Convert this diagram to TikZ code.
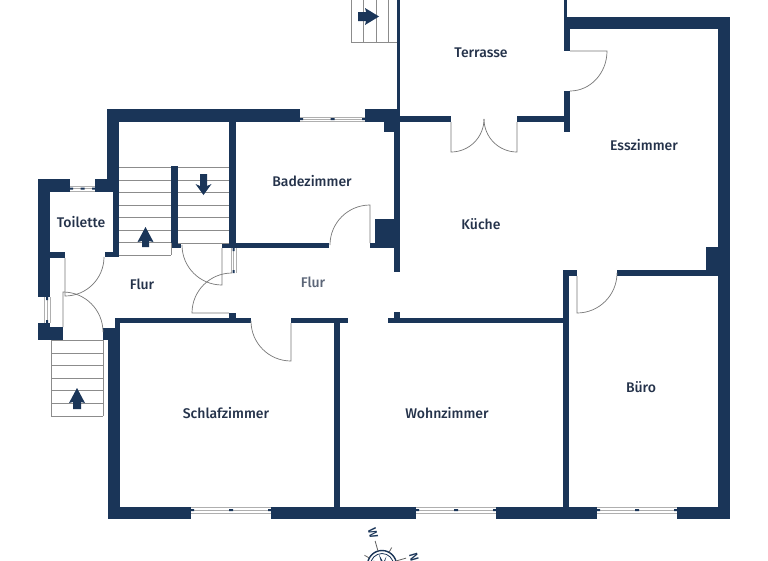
\documentclass[tikz,border=0pt]{standalone}
\usepackage{fontspec}
\setmainfont{Fira Sans Medium}
\definecolor{wallblue}{HTML}{1A3558}
\definecolor{labelblue}{HTML}{24324A}
\definecolor{linegray}{HTML}{8C8C8C}
\begin{document}
\begin{tikzpicture}[
  x=1pt, y=-1pt,
  wall/.style={fill=wallblue},
  stairline/.style={draw=linegray, line width=0.8pt},
  doorline/.style={draw=linegray!85!black, line width=0.7pt},
  windowline/.style={draw=linegray!70, line width=0.9pt},
  roomlabel/.style={text=labelblue, inner sep=0pt, font=\fontsize{14}{16}\selectfont},
  compasslabel/.style={text=wallblue, inner sep=0pt, rotate=-74, font=\fontsize{12}{14}\selectfont},
  arrowmark/.style={fill=wallblue}
]
\useasboundingbox (0,0) rectangle (768,560);
\clip (0,0) rectangle (768,560);
\fill[white] (0,0) rectangle (768,560);

% walls
\foreach \xa/\ya/\xb/\yb in {
  107/109/300/122, 107/109/119/192, 95/179/119/192, 113/192/119/257, 105/252/119/257,
  38/179/70/192, 38/179/50/297, 50/252/65/258, 38/323/50/340, 50/327/63/340,
  103/328/120/340, 115/318/251/323, 115/318/120/340, 108/328/120/519, 108/507/191/519,
  271/507/416/519, 496/507/597/519, 677/507/730/519,
  334/323/340/507, 291/318/348/323, 388/318/569/323, 563/270/569/507,
  563/270/577/276, 617/270/718/276, 706/247/718/270, 718/17/730/519,
  564/17/730/29, 564/0/567/17, 564/29/570/51, 564/91/570/132,
  400/116/451/122, 517/116/564/122, 397/0/400/109, 365/109/400/122, 384/122/400/132,
  394/122/400/272, 394/312/400/318, 229/122/236/248, 222/243/329/248, 370/243/394/248,
  375/219/394/243, 171/166/178/248, 171/243/181/248, 229/313/236/318}
  \fill[wall] (\xa,\ya) rectangle (\xb,\yb);

% windows
\foreach \xa/\xb/\ya/\yb in {70/95/186/191, 300/365/117/121, 191/271/507/513, 416/496/507/513, 597/677/507/513} {
  \pgfmathsetmacro{\ym}{(\ya+\yb)/2}
  \pgfmathsetmacro{\xm}{(\xa+\xb)/2}
  \draw[windowline] (\xa,\ya) -- (\xb,\ya) (\xa,\ym) -- (\xb,\ym) (\xa,\yb) -- (\xb,\yb);
  \fill[wall] (\xa,\ym-1) rectangle (\xa+3,\ym+1) (\xb-3,\ym-1) rectangle (\xb,\ym+1) (\xm-2,\ym-1) rectangle (\xm+2,\ym+1);
}
\foreach \xa/\xb/\ya/\yb in {44/50/297/323, 231/236/248/273} {
  \pgfmathsetmacro{\xm}{(\xa+\xb)/2}
  \draw[windowline] (\xa,\ya) -- (\xa,\yb) (\xm,\ya) -- (\xm,\yb) (\xb,\ya) -- (\xb,\yb);
  \fill[wall] (\xm-1,\ya) rectangle (\xm+1,\ya+3) (\xm-1,\yb-3) rectangle (\xm+1,\yb);
}

% stairs
\foreach \y in {167,180,192,205,217,230,242,255}
  \draw[stairline] (119,\y) -- (171,\y);
\draw[stairline] (171,243) -- (171,255);
\foreach \y in {167,180,192,205,217,230,243}
  \draw[stairline] (178,\y) -- (229,\y);
\foreach \y in {340,353,365,378,390,403,416}
  \draw[stairline] (51,\y) -- (103,\y);
\draw[stairline] (51,340) -- (51,416) (103,340) -- (103,416);
\foreach \x in {351,363,376,388}
  \draw[stairline] (\x,0) -- (\x,42);
\draw[stairline] (351,42) -- (397,42);

% stair arrows
\fill[arrowmark] (145.5,227) -- (153.5,242) -- (149,241) -- (149,247) -- (142,247) -- (142,241) -- (137.5,242) -- cycle;
\fill[arrowmark] (203.5,195) -- (195.5,184) -- (200,186) -- (200,174) -- (207,174) -- (207,186) -- (211.5,184) -- cycle;
\fill[arrowmark] (77,388) -- (85,403) -- (81,402) -- (81,409) -- (73,409) -- (73,402) -- (69,403) -- cycle;
\fill[arrowmark] (379,16.5) -- (365,25) -- (366,21) -- (358,21) -- (358,12) -- (366,12) -- (365,8) -- cycle;

% doors
\draw[doorline] (65,258) -- (65,296) arc[start angle=90, end angle=0, radius=39];
\draw[doorline] (63,327) -- (63,292) arc[start angle=-90, end angle=0, radius=40];
\draw[doorline] (222,248) -- (222,285) arc[start angle=90, end angle=180, radius=40];
\draw[doorline] (229,313) -- (192,313) arc[start angle=180, end angle=270, radius=40];
\draw[doorline] (370,243) -- (370,205) arc[start angle=-90, end angle=-180, radius=40];
\draw[doorline] (291,323) -- (291,361) arc[start angle=90, end angle=180, radius=40];
\draw[doorline] (451,122) -- (451,152) arc[start angle=90, end angle=0, radius=33];
\draw[doorline] (517,122) -- (517,152) arc[start angle=90, end angle=180, radius=33];
\draw[doorline] (570,51) -- (607,51) arc[start angle=0, end angle=90, x radius=37, y radius=40];
\draw[doorline] (577,276) -- (577,313) arc[start angle=90, end angle=0, radius=40];

% compass
\draw[wallblue, line width=1.4pt] (382,565) circle[radius=14.5];
\draw[wallblue, line width=0.8pt] (382,565) circle[radius=11.5];
\foreach \a/\r in {-106/25, -61/20, -151/20, -16/25}
  \draw[linegray!70!black, line width=0.8pt] (382,565) ++(\a:14.5) -- ++(\a:\r-14.5);
\foreach \a in {-106,-16}
  \fill[wallblue] (382,565) -- ++(\a+25:4) -- ++(\a-13:8) -- cycle;
\fill[wallblue] (382,565) -- ++(-61+25:3) -- ++(-61-13:7) -- cycle;
\fill[wallblue] (382,565) -- ++(-151+25:3) -- ++(-151-13:7) -- cycle;
\node[compasslabel] (compassw) at (373,533) {W};
\node[compasslabel] (compassn) at (414,557) {N};

% rooms
\node[roomlabel] (toilette) at (81,222) {Toilette};
\node[roomlabel] (flura) at (142,284) {Flur};
\node[roomlabel, text=labelblue!75] (flurb) at (313,282) {Flur};
\node[roomlabel] (bad) at (312,181) {Badezimmer};
\node[roomlabel] (terrasse) at (481,53) {Terrasse};
\node[roomlabel] (esszimmer) at (644,145) {Esszimmer};
\node[roomlabel] (kueche) at (481,224) {Küche};
\node[roomlabel] (schlafzimmer) at (226,413) {Schlafzimmer};
\node[roomlabel] (wohnzimmer) at (447,413) {Wohnzimmer};
\node[roomlabel] (buero) at (641,387) {Büro};
\end{tikzpicture}
\end{document}
